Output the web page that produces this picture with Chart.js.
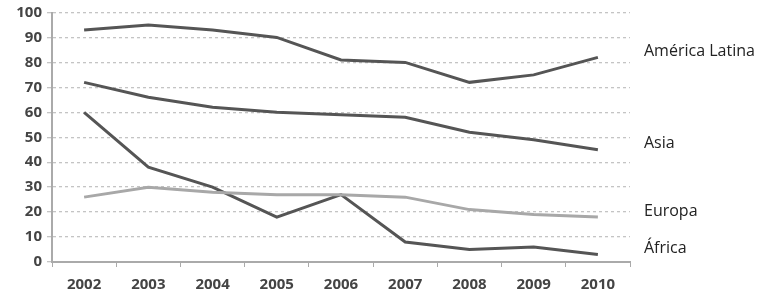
<!DOCTYPE html>
<html><head><meta charset="utf-8">
<script src="https://cdn.jsdelivr.net/npm/chart.js@4/dist/chart.umd.min.js"></script>
<style>html,body{margin:0;padding:0;background:#fff}#w{width:771px;height:308px}</style>
</head><body><div id="w"><canvas id="c" width="771" height="308"></canvas></div>
<script>
const years = ['2002','2003','2004','2005','2006','2007','2008','2009','2010'];
const americaLatina = [93, 95, 93, 90, 81, 80, 72, 75, 82];
const asia = [72, 66, 62, 60, 59, 58, 52, 49, 45];
const europa = [26, 30, 28, 27, 27, 26, 21, 19, 18];
const africa = [60, 38, 30, 18, 27, 8, 5, 6, 3];
const seriesNames = ['América Latina', 'Asia', 'Europa', 'África'];
const yTicks = [0,10,20,30,40,50,60,70,80,90,100];

const dark = '#555555', light = '#a8a8a8';
const labelPlugin = {
  id: 'endLabels',
  afterDatasetsDraw(chart) {
    const ctx = chart.ctx, ys = chart.scales.y;
    ctx.save();
    ctx.font = '16px "Open Sans"';
    ctx.fillStyle = '#222';
    ctx.textBaseline = 'middle';
    chart.data.datasets.forEach((ds) => {
      const v = ds.data[ds.data.length - 1];
      ctx.fillText(ds.label, chart.chartArea.right + 14, ys.getPixelForValue(v) - 6);
    });
    ctx.restore();
  }
};
const mk = (label, data, color) => ({label, data, borderColor: color, backgroundColor: color, borderWidth: 3, pointRadius: 0, tension: 0, fill: false});
new Chart(document.getElementById('c'), {
  type: 'line',
  data: { labels: years, datasets: [
    mk(seriesNames[0], americaLatina, dark),
    mk(seriesNames[1], asia, dark),
    mk(seriesNames[2], europa, light),
    mk(seriesNames[3], africa, dark)
  ]},
  options: {
    responsive: false, animation: false,
    layout: { padding: { top: 10, right: 141, left: 0, bottom: 0 } },
    plugins: { legend: { display: false }, tooltip: { enabled: false } },
    scales: {
      x: {
        offset: true,
        grid: { offset: true, drawOnChartArea: false, drawTicks: true, tickLength: 5, color: '#aaa' },
        border: { color: '#aaa', width: 2 },
        ticks: { color: '#444', font: { family: '"Open Sans"', size: 15, weight: 'bold' }, padding: 9 },
        afterFit(s) { s.height = 46; }
      },
      y: {
        min: 0, max: 100,
        afterBuildTicks(s) { s.ticks = yTicks.map(v => ({value: v})); },
        grid: { color: '#c4c4c4', tickLength: 5, lineWidth: 1.3 },
        border: { color: '#aaa', width: 2, dash: [3, 3] },
        ticks: { color: '#444', font: { family: '"Open Sans"', size: 15, weight: 'bold', lineHeight: 1 }, padding: 5 },
        afterFit(s) { s.width = 52; }
      }
    }
  },
  plugins: [labelPlugin]
});
</script></body></html>
